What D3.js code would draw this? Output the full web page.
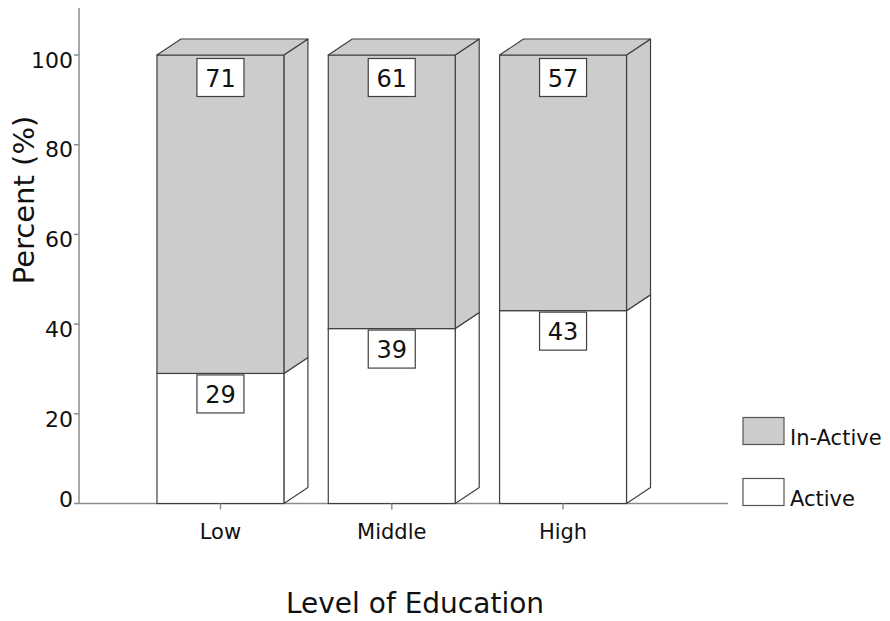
<!DOCTYPE html>
<html>
<head>
<meta charset="utf-8">
<script src="https://cdn.jsdelivr.net/npm/d3@7"></script>
<style>
  html, body { margin: 0; padding: 0; background: #fff; }
  svg text { font-family: "DejaVu Sans", sans-serif; fill: #111; }
</style>
</head>
<body>
<svg id="chart" width="890" height="621"></svg>
<script>
// Level of education vs. activity share (percent)
const categories = ["Low", "Middle", "High"];
const activeValues = [29, 39, 43];
const inactiveValues = [71, 61, 57];
const seriesNames = ["In-Active", "Active"];
const yTicks = [0, 20, 40, 60, 80, 100];

const svg = d3.select("#chart");

const x = d3.scaleBand()
  .domain(categories)
  .range([134.8, 648.7])
  .paddingInner(0.259)
  .paddingOuter(0.1295);

const y = d3.scaleLinear().domain([0, 100]).range([503.5, 55]);

const depthX = 24, depthY = -16;
const axisColor = "#8c8c8c";
const edgeColor = "#404040";
const grayFill = "#cccccc";

// y axis
const axisX = 79;
svg.append("line")
  .attr("x1", axisX).attr("x2", axisX)
  .attr("y1", 8).attr("y2", y(0))
  .attr("stroke", axisColor).attr("stroke-width", 1.5);

const yAxis = svg.append("g");
yAxis.selectAll("line.tick").data(yTicks).join("line")
  .attr("class", "tick")
  .attr("x1", axisX - 5).attr("x2", axisX)
  .attr("y1", d => y(d)).attr("y2", d => y(d))
  .attr("stroke", axisColor).attr("stroke-width", 1.5);
yAxis.selectAll("text").data(yTicks).join("text")
  .attr("x", 73)
  .attr("y", d => y(d) + (d === 0 ? -4 : 5))
  .attr("dy", "0.35em")
  .attr("text-anchor", "end")
  .attr("font-size", 22)
  .text(d => d);

// x axis baseline
svg.append("line")
  .attr("x1", axisX).attr("x2", 728)
  .attr("y1", y(0)).attr("y2", y(0))
  .attr("stroke", axisColor).attr("stroke-width", 1.5);

// stacked segments: active at bottom, in-active on top
const stackData = categories.map((c, i) => ({
  cat: c,
  segs: [
    { name: "Active", y0: 0, y1: activeValues[i], v: activeValues[i], fill: "#ffffff" },
    { name: "In-Active", y0: activeValues[i], y1: activeValues[i] + inactiveValues[i], v: inactiveValues[i], fill: grayFill }
  ]
}));

const bars = svg.append("g").selectAll("g.bar").data(stackData).join("g").attr("class", "bar");

bars.each(function(d) {
  const g = d3.select(this);
  const x0 = x(d.cat), x1 = x(d.cat) + x.bandwidth();
  d.segs.forEach((s, k) => {
    const yb = y(s.y0), yt = y(s.y1);
    // side face
    g.append("path")
      .attr("d", `M${x1},${yb}L${x1 + depthX},${yb + depthY}L${x1 + depthX},${yt + depthY}L${x1},${yt}Z`)
      .attr("fill", s.fill).attr("stroke", edgeColor).attr("stroke-width", 1.2)
      .attr("stroke-linejoin", "round");
    // front face
    g.append("rect")
      .attr("x", x0).attr("y", yt)
      .attr("width", x1 - x0).attr("height", yb - yt)
      .attr("fill", s.fill).attr("stroke", edgeColor).attr("stroke-width", 1.2);
    // top face on the highest segment
    if (k === d.segs.length - 1) {
      g.append("path")
        .attr("d", `M${x0},${yt}L${x0 + depthX},${yt + depthY}L${x1 + depthX},${yt + depthY}L${x1},${yt}Z`)
        .attr("fill", s.fill).attr("stroke", edgeColor).attr("stroke-width", 1.2)
        .attr("stroke-linejoin", "round");
    }
  });
  // value boxes
  const cx = x0 + x.bandwidth() / 2;
  d.segs.forEach(s => {
    const top = s.name === "In-Active" ? y(s.y1) + 3.5 : y(s.y1) + 1.5;
    const bw = 47, bh = 38;
    g.append("rect")
      .attr("x", cx - bw / 2).attr("y", top)
      .attr("width", bw).attr("height", bh)
      .attr("fill", "#fff").attr("stroke", edgeColor).attr("stroke-width", 1.2);
    g.append("text")
      .attr("x", cx).attr("y", top + bh / 2 + 9)
      .attr("text-anchor", "middle")
      .attr("font-size", 24)
      .text(s.v);
  });
});

// x ticks and labels
const xAxis = svg.append("g");
xAxis.selectAll("line").data(categories).join("line")
  .attr("x1", d => x(d) + x.bandwidth() / 2).attr("x2", d => x(d) + x.bandwidth() / 2)
  .attr("y1", y(0)).attr("y2", y(0) + 6)
  .attr("stroke", axisColor).attr("stroke-width", 1.5);
xAxis.selectAll("text").data(categories).join("text")
  .attr("x", d => x(d) + x.bandwidth() / 2)
  .attr("y", 539)
  .attr("text-anchor", "middle")
  .attr("font-size", 21)
  .text(d => d);

// axis titles
svg.append("text")
  .attr("transform", "translate(34,200) rotate(-90)")
  .attr("text-anchor", "middle")
  .attr("font-size", 29)
  .text("Percent (%)");

svg.append("text")
  .attr("x", 415).attr("y", 613)
  .attr("text-anchor", "middle")
  .attr("font-size", 28)
  .text("Level of Education");

// legend
const legend = svg.append("g");
const legendItems = [
  { name: seriesNames[0], fill: grayFill, top: 417.5 },
  { name: seriesNames[1], fill: "#ffffff", top: 478.5 }
];
legendItems.forEach(it => {
  legend.append("rect")
    .attr("x", 743).attr("y", it.top)
    .attr("width", 41).attr("height", 27)
    .attr("fill", it.fill).attr("stroke", "#555").attr("stroke-width", 1.2);
  legend.append("text")
    .attr("x", 790).attr("y", it.top + 27.5)
    .attr("font-size", 21)
    .text(it.name);
});
</script>
</body>
</html>
